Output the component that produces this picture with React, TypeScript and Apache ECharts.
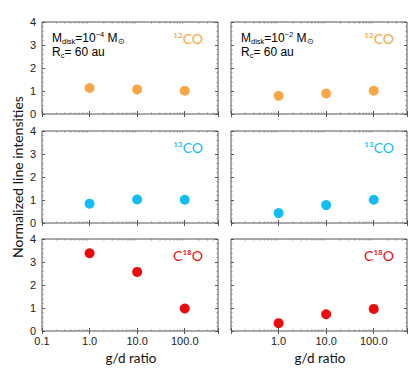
import React, { useEffect, useRef } from "react";
import * as echarts from "echarts";

const gdRatio = [1.0, 10.0, 100.0];
const xTickLabels = [0.1, 1.0, 10.0, 100.0];
const minorXTicks = [0.2, 0.3, 0.4, 0.5, 0.6, 0.7, 0.8, 0.9, 2, 3, 4, 5, 6, 7, 8, 9, 20, 30, 40, 50, 60, 70, 80, 90, 200, 300, 400];

const co12Low = [1.13, 1.07, 1.01];
const co12High = [0.79, 0.89, 1.01];
const co13Low = [0.84, 1.02, 1.01];
const co13High = [0.43, 0.78, 1.01];
const c18oLow = [3.38, 2.57, 0.98];
const c18oHigh = [0.34, 0.73, 0.96];

const colOrange = "#F9A646";
const colCyan = "#12BDF5";
const colRed = "#EE0A0A";

const panelLefts = [42, 231];
const panelWidth = 176;
const panelTops = [22, 131, 239];
const panelHeight = 92;

export default function App() {
  const ref = useRef<HTMLDivElement>(null);
  useEffect(() => {
    if (!ref.current) return;
    const chart = echarts.init(ref.current, null, { renderer: "svg" });

    const panels = [
      { row: 0, col: 0, data: co12Low, color: colOrange },
      { row: 0, col: 1, data: co12High, color: colOrange },
      { row: 1, col: 0, data: co13Low, color: colCyan },
      { row: 1, col: 1, data: co13High, color: colCyan },
      { row: 2, col: 0, data: c18oLow, color: colRed },
      { row: 2, col: 1, data: c18oHigh, color: colRed },
    ];

    const grid: any[] = [];
    const xAxis: any[] = [];
    const yAxis: any[] = [];
    const series: any[] = [];
    const frameColor = "#555";
    const isDecade = (v: number) => Math.abs(Math.log10(v) - Math.round(Math.log10(v))) < 1e-6;

    panels.forEach((p, i) => {
      grid.push({
        left: panelLefts[p.col],
        top: panelTops[p.row],
        width: panelWidth,
        height: panelHeight,
        show: true,
        borderColor: frameColor,
        borderWidth: 1,
        backgroundColor: "#fff",
      });
      const showXLabels = p.row === 2;
      ["bottom", "top"].forEach((pos, k) => {
        xAxis.push({
          type: "log",
          gridIndex: i,
          position: pos,
          min: 0.1,
          max: 500,
          logBase: 10,
          axisLine: { show: false },
          splitLine: { show: false },
          axisTick: { show: true, inside: true, length: 3, lineStyle: { color: frameColor } },
          axisLabel: {
            show: showXLabels && k === 0,
            fontSize: 11,
            color: "#222",
            fontFamily: "Liberation Sans, Arial, sans-serif",
            margin: 4,
            formatter: (v: number) => {
              if (!isDecade(v)) return "";
              if (p.col === 1 && v < 0.5) return "";
              if (!xTickLabels.some((t) => Math.abs(t - v) < 1e-6)) return "";
              return v.toFixed(1);
            },
          },
        });
      });
      ["left", "right"].forEach((pos, k) => {
        yAxis.push({
          type: "value",
          gridIndex: i,
          position: pos,
          min: 0,
          max: 4,
          interval: 1,
          axisLine: { show: false },
          splitLine: { show: false },
          axisTick: { show: true, inside: true, length: 3, lineStyle: { color: frameColor } },
          minorTick: { show: true, splitNumber: 5, length: 1.5, lineStyle: { color: "#888" } },
          axisLabel: {
            show: p.col === 0 && k === 0,
            fontSize: 11,
            color: "#222",
            fontFamily: "Liberation Sans, Arial, sans-serif",
            margin: 6,
          },
        });
      });
      series.push({
        type: "scatter",
        xAxisIndex: i * 2,
        yAxisIndex: i * 2,
        symbol: "circle",
        symbolSize: 10,
        itemStyle: { color: p.color, opacity: 1 },
        data: gdRatio.map((g, j) => [g, p.data[j]]),
        silent: true,
      });
      series.push({
        type: "custom",
        xAxisIndex: i * 2,
        yAxisIndex: i * 2,
        silent: true,
        data: minorXTicks.map((m) => [m, 0]),
        renderItem: (params: any, api: any) => {
          const bottom = api.coord([api.value(0), 0]);
          const top = api.coord([api.value(0), 4]);
          const style = { stroke: "#888", lineWidth: 1 };
          return {
            type: "group",
            children: [
              { type: "line", shape: { x1: bottom[0], y1: bottom[1], x2: bottom[0], y2: bottom[1] - 1.5 }, style },
              { type: "line", shape: { x1: top[0], y1: top[1], x2: top[0], y2: top[1] + 1.5 }, style },
            ],
          };
        },
      });
    });

    const annotFont = "Liberation Sans, Arial, sans-serif";
    const rich = {
      m: { fontSize: 12, fontFamily: annotFont, color: "#222", lineHeight: 15 },
      sub: { fontSize: 7.5, fontFamily: annotFont, color: "#222", lineHeight: 7, verticalAlign: "bottom" },
      sup: { fontSize: 7.5, fontFamily: annotFont, color: "#222", lineHeight: 7, verticalAlign: "top" },
    };
    const labelFont = "Lato, 'Open Sans', sans-serif";
    const graphic: any[] = [];
    [
      { x: 52, exp: "−4" },
      { x: 241, exp: "−2" },
    ].forEach((a) => {
      graphic.push({
        type: "text",
        left: a.x,
        top: 30,
        style: {
          text: `{m|M}{sub|disk}{m|=10}{sup|${a.exp}}{m| M}{sub|⊙}`,
          rich,
        },
      });
      graphic.push({
        type: "text",
        left: a.x,
        top: 46,
        style: {
          text: `{m|R}{sub|c}{m|= 60 au}`,
          rich,
        },
      });
    });
    const coLabels = [
      { text: "¹²CO", color: colOrange, y: 38 },
      { text: "¹³CO", color: colCyan, y: 147 },
      { text: "C¹⁸O", color: colRed, y: 255 },
    ];
    coLabels.forEach((c) => {
      [203, 394].forEach((xr) => {
        graphic.push({
          type: "text",
          x: xr,
          y: c.y,
          style: {
            text: c.text,
            fill: c.color,
            font: `14px ${labelFont}`,
            align: "right",
            verticalAlign: "middle",
          },
        });
      });
    });
    graphic.push({
      type: "text",
      x: 17,
      y: 177,
      rotation: Math.PI / 2,
      style: {
        text: "Normalized line intensities",
        fill: "#111",
        font: `14px ${labelFont}`,
        align: "center",
        verticalAlign: "middle",
      },
    });
    [131, 320].forEach((xc) => {
      graphic.push({
        type: "text",
        x: xc,
        y: 358,
        style: {
          text: "g/d ratio",
          fill: "#111",
          font: `13.5px ${labelFont}`,
          align: "center",
          verticalAlign: "middle",
        },
      });
    });

    chart.setOption({
      animation: false,
      backgroundColor: "#fff",
      grid,
      xAxis,
      yAxis,
      series,
      graphic,
    });
    return () => chart.dispose();
  }, []);
  return (
    <div
      ref={ref}
      style={{ position: "fixed", left: 0, top: 0, width: 415, height: 377 }}
    />
  );
}
